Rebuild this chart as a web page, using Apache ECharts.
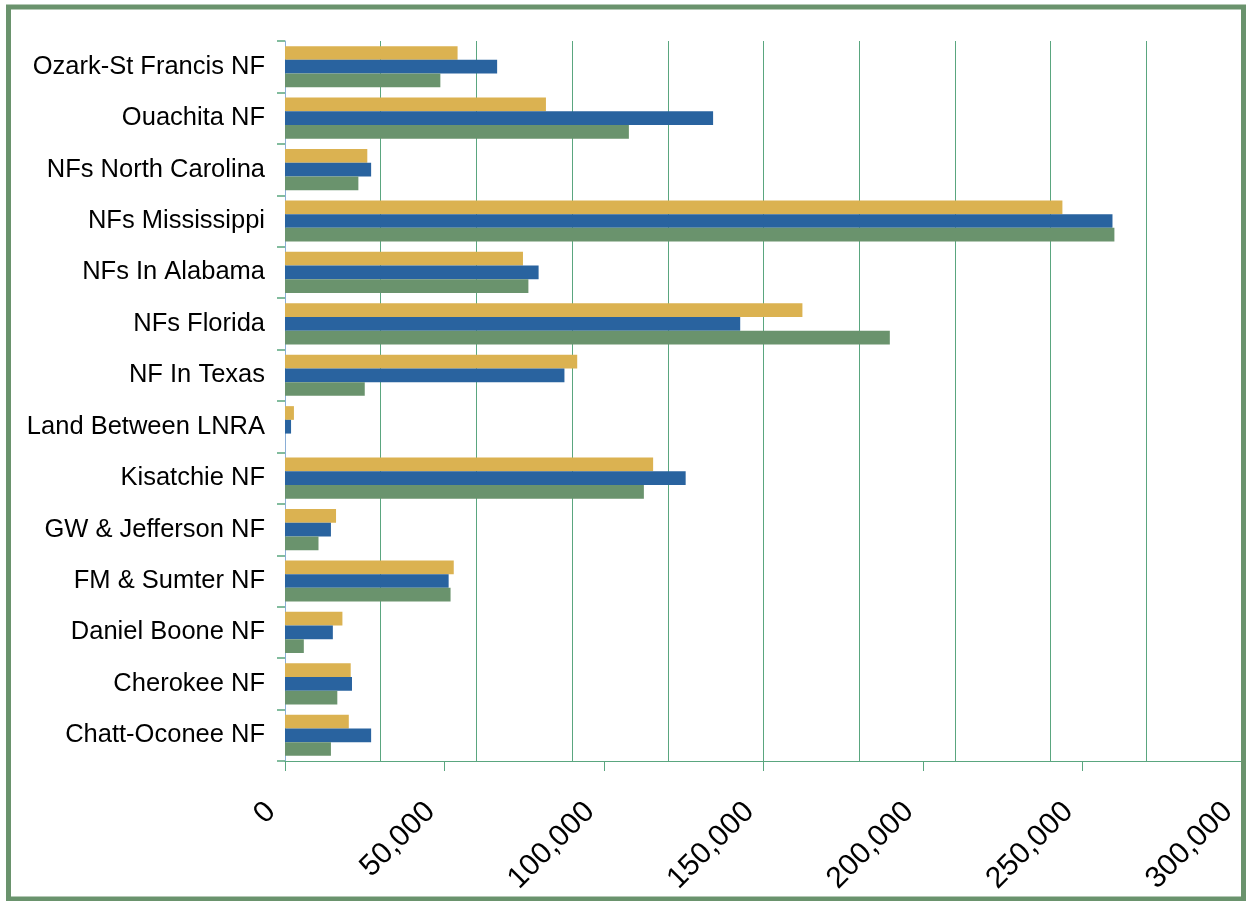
<!DOCTYPE html>
<html>
<head>
<meta charset="utf-8">
<script src="https://cdn.jsdelivr.net/npm/echarts@6/dist/echarts.min.js"></script>
<style>
  html, body { margin: 0; padding: 0; background: #ffffff; }
  #chart { width: 1246px; height: 901px; }
</style>
</head>
<body>
<div id="chart"></div>
<script>
// Categories, top to bottom
const categories = [
  'Ozark-St Francis NF', 'Ouachita NF', 'NFs North Carolina', 'NFs Mississippi',
  'NFs In Alabama', 'NFs Florida', 'NF In Texas', 'Land Between LNRA',
  'Kisatchie NF', 'GW & Jefferson NF', 'FM & Sumter NF', 'Daniel Boone NF',
  'Cherokee NF', 'Chatt-Oconee NF'
];
// Series values (same order as categories)
const goldValues  = [54100, 81800, 25800, 243700, 74600, 162200, 91600, 2800, 115400, 16000, 52900, 18000, 20600, 20000];
const blueValues  = [66500, 134200, 27000, 259400, 79500, 142700, 87600, 1900, 125600, 14400, 51300, 15000, 21000, 27000];
const greenValues = [48700, 107800, 23000, 260000, 76300, 189600, 25000, 0, 112500, 10500, 51900, 5900, 16400, 14400];
// Tick labels of the value axis
const xTickLabels = ['0', '50,000', '100,000', '150,000', '200,000', '250,000', '300,000'];

const GOLD = '#dbb251', BLUE = '#29639f', GREEN = '#6a936d';
const GRID_GREEN = '#5aa67f';
const FONT = '"Liberation Sans", Arial, sans-serif';

const chart = echarts.init(document.getElementById('chart'), null, { renderer: 'canvas' });
chart.setOption({
  backgroundColor: '#ffffff',
  animation: false,
  grid: { left: 285, top: 41, width: 957, height: 720, containLabel: false },
  xAxis: [
    {
      type: 'value', min: 0, max: 300000, interval: 30000, position: 'bottom',
      axisLine: { show: true, lineStyle: { color: GRID_GREEN, width: 1 } },
      axisTick: { show: false },
      axisLabel: { show: false },
      splitLine: { show: true, lineStyle: { color: GRID_GREEN, width: 1 } }
    },
    {
      type: 'value', min: 0, max: 300000, interval: 50000, position: 'bottom',
      axisLine: { show: false },
      axisTick: { show: true, length: 10, lineStyle: { color: GRID_GREEN, width: 1 } },
      splitLine: { show: false },
      axisLabel: {
        show: true, rotate: 45, margin: 32, fontSize: 30, color: '#000000',
        fontFamily: FONT, padding: [0, 20, 0, 0],
        formatter: function (v) { return xTickLabels[Math.round(v / 50000)]; }
      }
    }
  ],
  yAxis: {
    type: 'category', inverse: true, data: categories,
    axisLine: { show: true, lineStyle: { color: '#8aaed6', width: 1 } },
    axisTick: { show: true, length: 8, alignWithLabel: false, lineStyle: { color: GRID_GREEN, width: 1.5 } },
    axisLabel: { fontSize: 25.5, color: '#000000', fontFamily: FONT, margin: 20 },
    splitLine: { show: false }
  },
  series: [
    { name: 'Gold', type: 'bar', xAxisIndex: 0, data: goldValues, itemStyle: { color: GOLD }, barGap: '0%', barCategoryGap: '20%' },
    { name: 'Blue', type: 'bar', xAxisIndex: 0, data: blueValues, itemStyle: { color: BLUE }, barGap: '0%', barCategoryGap: '20%' },
    { name: 'Green', type: 'bar', xAxisIndex: 0, data: greenValues, itemStyle: { color: GREEN }, barGap: '0%', barCategoryGap: '20%' }
  ],
  graphic: [
    {
      type: 'rect', silent: true, z: 100,
      shape: { x: 8.5, y: 7, width: 1235, height: 892 },
      style: { fill: 'none', stroke: GREEN, lineWidth: 5 }
    }
  ]
});
</script>
</body>
</html>
